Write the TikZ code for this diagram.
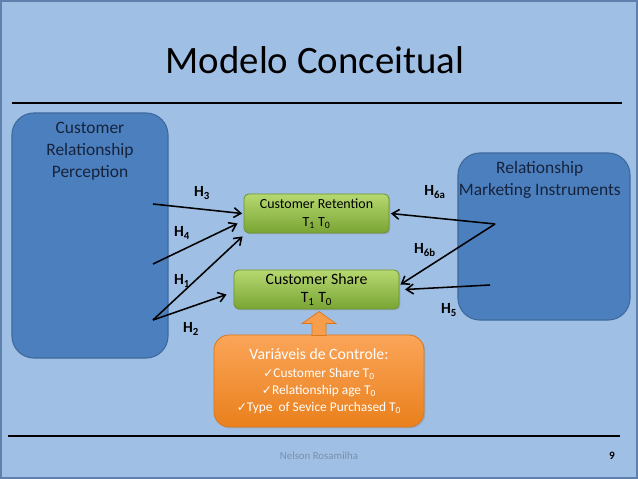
\documentclass[tikz,border=0pt]{standalone}
\usepackage{fontspec}
\setmainfont{Carlito}
\newfontfamily\checkfont{DejaVu Sans}
\usetikzlibrary{arrows.meta,positioning,calc,shadows}
\definecolor{slidebg}{HTML}{A0BFE5}
\definecolor{slideframe}{HTML}{5F80AC}
\definecolor{blockblue}{HTML}{4C7FBD}
\definecolor{blueedge}{HTML}{3E6A9E}
\definecolor{navytext}{HTML}{16233D}
\definecolor{greentop}{HTML}{B6D870}
\definecolor{greenbot}{HTML}{79A534}
\definecolor{greenedge}{HTML}{6E9232}
\definecolor{orangetop}{HTML}{FBA559}
\definecolor{orangebot}{HTML}{E9801C}
\definecolor{orangeedge}{HTML}{D9781E}
\definecolor{footgray}{HTML}{7B8EA8}
\newcommand{\chk}{{\checkfont\fontsize{8.6}{10}\selectfont ✓}}

\begin{document}
\begin{tikzpicture}[
  x=0.025cm, y=-0.025cm, line width=0.4pt,
  blockbox/.style={draw=blueedge, fill=blockblue, line width=0.8pt,
                   rounded corners=0.55cm},
  blocktext/.style={text=navytext, align=center, inner sep=0pt,
                    font=\fontsize{12.4}{15.6}\selectfont},
  outcome/.style={draw=greenedge, top color=greentop, bottom color=greenbot,
                  line width=0.6pt, rounded corners=0.12cm, align=center,
                  minimum height=0.975cm, inner sep=1pt,
                  drop shadow={shadow xshift=1pt, shadow yshift=-1pt, opacity=0.3}},
  control/.style={draw=orangeedge, top color=orangetop, bottom color=orangebot,
                  line width=0.6pt, rounded corners=0.38cm, align=center,
                  text=white, inner sep=2pt,
                  drop shadow={shadow xshift=1pt, shadow yshift=-1pt, opacity=0.3}},
  arr/.style={-{Straight Barb[length=5pt,width=7pt]}, line width=1.1pt, draw=black},
  hyp/.style={font=\bfseries\fontsize{11}{13}\selectfont, inner sep=0pt}
]
  % --- Slide background and rules ---
  \useasboundingbox (0,0) rectangle (638,479);
  \fill[slidebg] (0,0) rectangle (638,479);
  \draw[slideframe, line width=1.6pt] (1,1) rectangle (637,478);
  \draw[black, line width=1.6pt] (12,103) -- (622,103);
  \draw[black, line width=1.6pt] (8,436) -- (620,436);

  \node[font=\fontsize{27.6}{32}\selectfont, inner sep=0pt] (title) at (315,60)
       {Modelo Conceitual};

  % --- Side blocks ---
  \node[blockbox, minimum width=3.9cm, minimum height=6.125cm] (crp) at (90,235.5) {};
  \node[blocktext, anchor=north] (crptxt) at ([yshift=-7pt]crp.north)
       {Customer\\Relationship\\Perception};

  \node[blockbox, minimum width=4.3cm, minimum height=4.175cm] (rmi) at (544,236.5) {};
  \node[blocktext, anchor=north] (rmitxt) at ([xshift=-3pt, yshift=-6pt]rmi.north)
       {Relationship\\Marketing Instruments};

  % --- Outcomes ---
  \node[outcome, minimum width=3.625cm, font=\fontsize{9.9}{12.5}\selectfont] (ret)
       at (316.5,213.5) {Customer Retention\\T\textsubscript{1} T\textsubscript{0}};
  \node[outcome, minimum width=4.125cm, font=\fontsize{11.2}{13}\selectfont] (share)
       at (316.5,289.5) {Customer Share\\T\textsubscript{1} T\textsubscript{0}};

  % --- Control variables ---
  \node[control, minimum width=5.25cm, minimum height=2.3cm] (ctrl) at (319,381)
       {{\fontsize{11.2}{14}\selectfont Variáveis de Controle:}\\[1pt]
        {\fontsize{9.5}{12.8}\selectfont \chk Customer Share T\textsubscript{0}}\\
        {\fontsize{9.5}{12.8}\selectfont \chk Relationship age T\textsubscript{0}}\\
        {\fontsize{9.5}{12.8}\selectfont \chk Type~~of Sevice Purchased T\textsubscript{0}}};

  % block arrow from controls up to share
  \begin{scope}[shift={(ctrl.north)}]
    \filldraw[fill=orangetop!80!orangebot, draw=orangeedge, line width=0.5pt]
      (0,-23) -- (17,-11) -- (7,-11) -- (7,1) -- (-7,1) -- (-7,-11) -- (-17,-11) -- cycle;
  \end{scope}

  % --- Arrow start points ---
  \coordinate (crpa) at (153,204);
  \coordinate (crpb) at (153,264);
  \coordinate (crpc) at (153,320);
  \coordinate (rmia) at (495,224);
  \coordinate (rmib) at (490,285);

  % --- Hypotheses ---
  \draw[arr] (crpa) -- ([xshift=-1pt]ret.west);
  \draw[arr] (crpb) -- ([shift={(-6,10)}]ret.west);
  \draw[arr] (crpc) -- ([shift={(-1,3)}]ret.south west);
  \draw[arr] (crpc) -- ([shift={(-7,5)}]share.west);
  \draw[arr] (rmia) -- ([xshift=1pt]ret.east);
  \draw[arr] (rmia) -- ([shift={(1,-5)}]share.east);
  \draw[arr] (rmib) -- ([xshift=4pt]share.east);

  \node[hyp] (h3) at (202,193) {H\textsubscript{3}};
  \node[hyp] (h4) at (182,233) {H\textsubscript{4}};
  \node[hyp] (h1) at (182,281) {H\textsubscript{1}};
  \node[hyp] (h2) at (191,329) {H\textsubscript{2}};
  \node[hyp] (h6a) at (435,192) {H\textsubscript{6a}};
  \node[hyp] (h6b) at (425,250) {H\textsubscript{6b}};
  \node[hyp] (h5) at (449,310) {H\textsubscript{5}};

  % --- Footer ---
  \node[text=footgray, font=\fontsize{7.7}{9}\selectfont] (author) at (319,456) {Nelson Rosamilha};
  \node[font=\bfseries\fontsize{8}{9}\selectfont] (page) at (612,456) {9};
\end{tikzpicture}
\end{document}
